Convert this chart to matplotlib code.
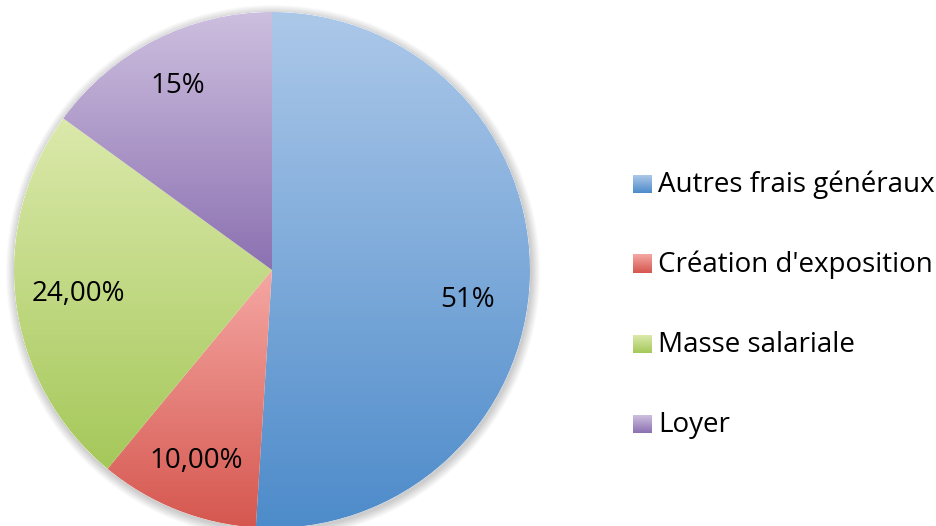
import numpy as np
import matplotlib
matplotlib.use('Agg')
import matplotlib.pyplot as plt
from matplotlib.colors import to_rgb
from matplotlib.patches import Circle

# donnees
categories = ['Autres frais généraux', "Création d'exposition", 'Masse salariale', 'Loyer']
valeurs = [51, 10, 24, 15]
etiquettes = ['51%', '10,00%', '24,00%', '15%']

# couleurs degradees (haut, bas) facon Excel
haut = ['#acc8e9', '#f5a7a3', '#dbe9ab', '#cdbfdf']
bas = ['#4d8bca', '#d5574f', '#a5c85a', '#8c71b1']

plt.rcParams['font.family'] = ['Open Sans', 'DejaVu Sans']

W, H = 936, 526
R = 258.0          # rayon en pixels
CX, CY = 272, 270  # centre en pixels (depuis le haut)


def px(x, y):
    # pixels image -> coordonnees donnees
    return (x - CX) / R, (CY - y) / R


def degrade(c1, c2, n=256):
    a = np.array(to_rgb(c1))
    b = np.array(to_rgb(c2))
    t = np.linspace(0, 1, n)[:, None]
    return (a + (b - a) * t)[:, None, :]


fig = plt.figure(figsize=(W / 100, H / 100), dpi=100)
ax = fig.add_axes([0, 0, 1, 1])

# ombre douce autour du camembert
for k in range(10):
    ax.add_patch(Circle((0.004, -0.008), 1 + (k + 1) * 0.0035, color='#000000',
                        alpha=0.018, lw=0, zorder=0))

wedges, _ = ax.pie(valeurs, startangle=90, counterclock=False, radius=1,
                   wedgeprops=dict(facecolor='none', edgecolor='none'))

for w, c1, c2 in zip(wedges, haut, bas):
    v = w.get_path().vertices
    ext = [v[:, 0].min(), v[:, 0].max(), v[:, 1].min(), v[:, 1].max()]
    ax.add_patch(Circle((0, 0), 1.0, color='white', lw=0, zorder=0.5))
    im = ax.imshow(degrade(c1, c2), extent=ext, origin='upper', aspect='auto',
                   interpolation='bilinear', zorder=1)
    im.set_clip_path(w)

# etiquettes de pourcentage
label_px = [(468, 300), (196, 461), (78, 294), (178, 86)]
for txt, (x, y) in zip(etiquettes, label_px):
    xd, yd = px(x, y)
    ax.text(xd, yd, txt, ha='center', va='center', fontsize=20, color='black', zorder=3)

# legende
leg_y = [184, 264, 344, 424]
for cat, y, c1, c2 in zip(categories, leg_y, haut, bas):
    x0, y0 = px(633, y - 9)
    x1, y1 = px(652, y + 9)
    ax.imshow(degrade(c1, c2, 32), extent=[x0, x1, y1, y0], origin='upper',
              aspect='auto', interpolation='bilinear', zorder=2)
    xt, yt = px(658, y + 1)
    ax.text(xt, yt, cat, ha='left', va='center', fontsize=20, color='black')

ax.set_xlim(-CX / R, (W - CX) / R)
ax.set_ylim(-(H - CY) / R, CY / R)
ax.set_aspect('auto')
ax.axis('off')

plt.savefig('out.png', dpi=100)
plt.close()
